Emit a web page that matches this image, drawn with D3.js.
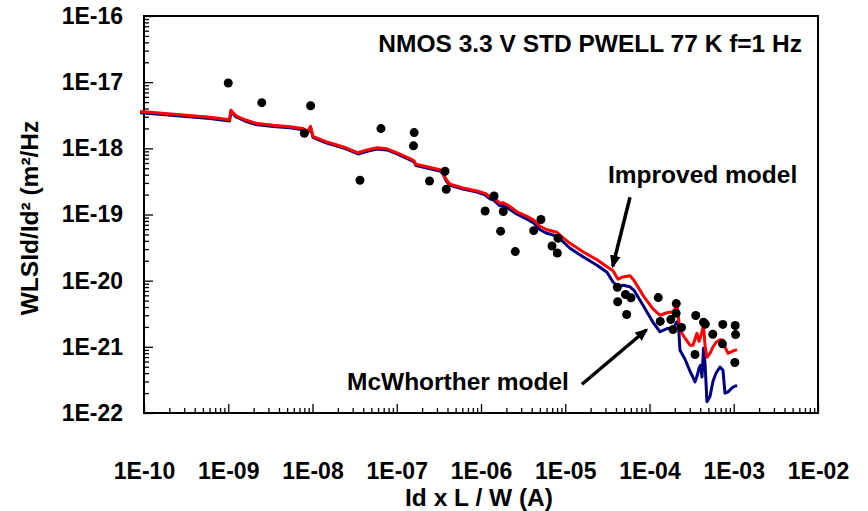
<!DOCTYPE html>
<html>
<head>
<meta charset="utf-8">
<script src="https://cdn.jsdelivr.net/npm/d3@7"></script>
<style>
  html, body { margin: 0; padding: 0; background: #fff; }
  svg { display: block; font-family: Arial, "Liberation Sans", sans-serif; }
</style>
</head>
<body>
<svg id="chart" width="868" height="511"></svg>
<script>
// Normalised current Id·L/W (A) where the two model curves are evaluated
const modelCurrent = [
  9.0e-11, 1.00e-10, 2.67e-10, 6.07e-10, 1.035e-9, 1.078e-9, 1.236e-9, 1.58e-9, 2.135e-9, 3.40e-9,
  5.41e-9, 7.71e-9, 8.84e-9, 9.47e-9, 1.014e-8, 1.446e-8, 2.50e-8, 3.47e-8, 4.32e-8, 5.83e-8,
  7.66e-8, 1.007e-7, 1.437e-7, 1.602e-7, 1.692e-7, 2.286e-7, 3.26e-7, 3.54e-7, 3.84e-7, 4.29e-7,
  6.11e-7, 8.97e-7, 1.116e-6, 1.279e-6, 1.427e-6, 1.681e-6, 1.824e-6, 2.092e-6, 2.675e-6, 3.516e-6,
  4.257e-6, 5.015e-6, 6.07e-6, 7.98e-6, 9.15e-6, 1.139e-5, 1.624e-5, 2.382e-5, 3.13e-5, 3.69e-5,
  4.23e-5, 4.85e-5, 5.87e-5, 6.55e-5, 8.37e-5, 1.100e-4, 1.332e-4, 1.613e-4, 1.901e-4, 2.121e-4,
  2.21e-4, 2.30e-4, 2.64e-4, 3.025e-4, 3.28e-4, 3.47e-4, 3.66e-4, 3.87e-4, 4.03e-4, 4.20e-4,
  4.375e-4, 4.56e-4, 4.81e-4, 5.23e-4, 5.67e-4, 6.16e-4, 6.87e-4, 7.45e-4, 7.87e-4, 8.55e-4,
  9.80e-4, 1.093e-3
];

// Improved model: WL·SId/Id² (m²/Hz)
const improvedModel = [
  3.60e-18, 3.57e-18, 3.21e-18, 2.94e-18, 2.70e-18, 3.76e-18, 3.10e-18, 2.70e-18, 2.39e-18, 2.23e-18,
  2.12e-18, 1.99e-18, 1.81e-18, 2.15e-18, 1.52e-18, 1.26e-18, 1.02e-18, 8.56e-19, 9.34e-19, 1.02e-18,
  9.84e-19, 8.56e-19, 7.00e-19, 6.48e-19, 5.74e-19, 5.26e-19, 4.74e-19, 4.27e-19, 3.41e-19, 2.86e-19,
  2.52e-19, 2.27e-19, 2.09e-19, 1.85e-19, 1.76e-19, 1.48e-19, 1.51e-19, 1.38e-19, 1.10e-19, 9.40e-20,
  8.18e-20, 6.64e-20, 5.88e-20, 5.38e-20, 4.60e-20, 3.67e-20, 2.73e-20, 2.07e-20, 1.62e-20, 1.41e-20,
  1.05e-20, 1.14e-20, 1.19e-20, 1.01e-20, 6.01e-21, 3.76e-21, 3.00e-21, 3.27e-21, 3.39e-21, 4.10e-21,
  2.70e-21, 1.78e-21, 1.35e-21, 1.06e-21, 1.06e-21, 1.30e-21, 1.60e-21, 1.21e-21, 1.39e-21, 1.72e-21,
  2.12e-21, 1.06e-21, 6.95e-22, 7.99e-22, 9.95e-22, 1.17e-21, 1.28e-21, 1.26e-21, 9.95e-22, 7.99e-22,
  8.66e-22, 9.09e-22
];

// McWhorther model: WL·SId/Id² (m²/Hz)
const mcWhortherModel = [
  3.46e-18, 3.43e-18, 3.08e-18, 2.82e-18, 2.59e-18, 3.61e-18, 2.98e-18, 2.59e-18, 2.29e-18, 2.14e-18,
  2.04e-18, 1.91e-18, 1.74e-18, 2.06e-18, 1.46e-18, 1.21e-18, 9.80e-19, 8.22e-19, 8.97e-19, 9.80e-19,
  9.45e-19, 8.22e-19, 6.72e-19, 6.22e-19, 5.51e-19, 5.05e-19, 4.55e-19, 4.10e-19, 3.27e-19, 2.75e-19,
  2.42e-19, 2.18e-19, 1.99e-19, 1.73e-19, 1.64e-19, 1.35e-19, 1.38e-19, 1.24e-19, 1.01e-19, 8.47e-20,
  7.36e-20, 5.88e-20, 5.20e-20, 4.69e-20, 4.01e-20, 3.09e-20, 2.30e-20, 1.71e-20, 1.34e-20, 9.55e-21,
  8.08e-21, 8.52e-21, 8.08e-21, 7.16e-21, 4.25e-21, 2.35e-21, 1.69e-21, 1.89e-21, 1.89e-21, 2.39e-21,
  2.12e-21, 8.87e-22, 6.49e-22, 4.27e-22, 3.47e-22, 2.96e-22, 3.59e-22, 4.74e-22, 5.26e-22, 3.50e-22,
  9.51e-22, 5.64e-22, 1.48e-22, 1.79e-22, 3.02e-22, 3.98e-22, 4.96e-22, 4.42e-22, 1.99e-22, 2.09e-22,
  2.47e-22, 2.62e-22
];

// Measured noise points: current (A) and WL·SId/Id² (m²/Hz)
const measuredCurrent = [
  1.00e-9, 2.5e-9, 9.5e-9, 8.0e-9, 6.5e-8, 1.61e-7, 1.58e-7, 3.66e-8, 2.45e-7, 3.74e-7,
  3.87e-7, 1.12e-6, 1.43e-6, 1.84e-6, 1.71e-6, 2.55e-6, 5.15e-6, 4.22e-6, 8.2e-6, 6.96e-6,
  8.05e-6, 4.15e-5, 4.19e-5, 5.19e-5, 6.03e-5, 5.36e-5, 1.27e-4, 1.34e-4, 1.79e-4, 1.90e-4,
  2.08e-4, 2.07e-4, 2.40e-4, 3.54e-4, 4.38e-4, 4.60e-4, 3.47e-4, 5.64e-4, 7.41e-4, 7.35e-4,
  1.04e-3, 1.05e-3, 1.03e-3
];
const measuredNoise = [
  9.7e-18, 4.9e-18, 4.4e-18, 1.69e-18, 1.99e-18, 1.73e-18, 1.09e-18, 3.29e-19, 3.21e-19, 4.5e-19,
  2.4e-19, 1.13e-19, 1.9e-19, 1.11e-19, 5.6e-20, 2.75e-20, 8.4e-20, 5.7e-20, 4.37e-20, 3.34e-20,
  2.62e-20, 7.94e-21, 4.8e-21, 6.18e-21, 5.51e-21, 3.08e-21, 5.55e-21, 2.42e-21, 2.58e-21, 1.83e-21,
  4.5e-21, 3.21e-21, 1.96e-21, 2.97e-21, 2.35e-21, 2.2e-21, 7.66e-22, 1.55e-21, 2.18e-21, 1.11e-21,
  2.1e-21, 1.53e-21, 5.8e-22
];

// Axis decades and their labels
const xDecades = [1e-10, 1e-9, 1e-8, 1e-7, 1e-6, 1e-5, 1e-4, 1e-3, 1e-2];
const xTickLabels = ["1E-10", "1E-09", "1E-08", "1E-07", "1E-06", "1E-05", "1E-04", "1E-03", "1E-02"];
const yDecades = [1e-22, 1e-21, 1e-20, 1e-19, 1e-18, 1e-17, 1e-16];
const yTickLabels = ["1E-22", "1E-21", "1E-20", "1E-19", "1E-18", "1E-17", "1E-16"];

// Arrow annotations in data space: [fromX, fromY, toX, toY]
const improvedArrow = [5.87e-5, 1.82e-19, 3.66e-5, 1.65e-20];
const mcWhortherArrow = [1.58e-5, 2.72e-22, 9.21e-5, 1.81e-21];

const svg = d3.select("#chart");
const plotLeft = 144, plotRight = 818, plotTop = 16, plotBottom = 413;

const x = d3.scaleLog().domain([1e-10, 1e-2]).range([plotLeft, plotRight]);
const y = d3.scaleLog().domain([1e-22, 1e-16]).range([plotBottom, plotTop]);

svg.append("rect").attr("width", 868).attr("height", 511).attr("fill", "#fff");

// minor tick values (2..9 in every decade)
const minorX = [], minorY = [];
for (let i = 0; i < xDecades.length - 1; i++)
  for (let k = 2; k <= 9; k++) minorX.push(xDecades[i] * k);
for (let i = 0; i < yDecades.length - 1; i++)
  for (let k = 2; k <= 9; k++) minorY.push(yDecades[i] * k);

// bottom axis: inward ticks
const xMinor = svg.append("g").attr("transform", `translate(0,${plotBottom})`)
  .call(d3.axisBottom(x).tickValues(minorX).tickSize(-5).tickFormat(""));
const xMajor = svg.append("g").attr("transform", `translate(0,${plotBottom})`)
  .call(d3.axisBottom(x).tickValues(xDecades).tickSize(-9).tickPadding(50)
    .tickFormat((d, i) => xTickLabels[i]));
// left axis: inward ticks
const yMinor = svg.append("g").attr("transform", `translate(${plotLeft},0)`)
  .call(d3.axisLeft(y).tickValues(minorY).tickSize(-5).tickFormat(""));
const yMajor = svg.append("g").attr("transform", `translate(${plotLeft},0)`)
  .call(d3.axisLeft(y).tickValues(yDecades).tickSize(-9).tickPadding(21)
    .tickFormat((d, i) => yTickLabels[i]));

[xMinor, xMajor, yMinor, yMajor].forEach(g => {
  g.select(".domain").remove();
  g.selectAll(".tick line").attr("stroke", "#000").attr("stroke-width", 1.3);
  g.selectAll("text").attr("fill", "#000").attr("font-size", 23).attr("font-weight", "bold")
    .attr("font-family", "Arial, 'Liberation Sans', sans-serif");
});

// plot frame
svg.append("rect")
  .attr("x", plotLeft).attr("y", plotTop)
  .attr("width", plotRight - plotLeft).attr("height", plotBottom - plotTop)
  .attr("fill", "none").attr("stroke", "#000").attr("stroke-width", 2);

// model curves
const line = d3.line().x(d => x(d[0])).y(d => y(d[1]));
svg.append("path")
  .datum(modelCurrent.map((c, i) => [c, mcWhortherModel[i]]))
  .attr("d", line).attr("fill", "none").attr("stroke", "#000080")
  .attr("stroke-width", 3).attr("stroke-linejoin", "round");
svg.append("path")
  .datum(modelCurrent.map((c, i) => [c, improvedModel[i]]))
  .attr("d", line).attr("fill", "none").attr("stroke", "#ff0000")
  .attr("stroke-width", 3).attr("stroke-linejoin", "round");

// measured points
svg.append("g").selectAll("circle")
  .data(measuredCurrent.map((c, i) => [c, measuredNoise[i]]))
  .join("circle")
  .attr("cx", d => x(d[0])).attr("cy", d => y(d[1])).attr("r", 4.5).attr("fill", "#000");

// arrows
const defs = svg.append("defs");
defs.append("marker").attr("id", "head")
  .attr("viewBox", "0 0 12 10").attr("refX", 10).attr("refY", 5)
  .attr("markerUnits", "userSpaceOnUse").attr("markerWidth", 13).attr("markerHeight", 11)
  .attr("orient", "auto")
  .append("path").attr("d", "M0,0 L12,5 L0,10 Z").attr("fill", "#000");
[improvedArrow, mcWhortherArrow].forEach(a => {
  svg.append("line")
    .attr("x1", x(a[0])).attr("y1", y(a[1]))
    .attr("x2", x(a[2])).attr("y2", y(a[3]))
    .attr("stroke", "#000").attr("stroke-width", 3.5)
    .attr("marker-end", "url(#head)");
});

// text
const bold = sel => sel.attr("font-weight", "bold").attr("fill", "#000");
svg.append("text").attr("x", 802).attr("y", 52).attr("text-anchor", "end")
  .attr("font-size", 24.5).call(bold).text("NMOS 3.3 V STD PWELL 77 K f=1 Hz");
svg.append("text").attr("x", 608).attr("y", 183).attr("font-size", 24.5)
  .call(bold).text("Improved model");
svg.append("text").attr("x", 347).attr("y", 390).attr("font-size", 24.5)
  .call(bold).text("McWhorther model");
svg.append("text").attr("x", 479).attr("y", 506).attr("text-anchor", "middle")
  .attr("font-size", 24.5).call(bold).text("Id x L / W (A)");
svg.append("text").attr("transform", "translate(38,218) rotate(-90)")
  .attr("text-anchor", "middle").attr("font-size", 24.5)
  .call(bold).text("WLSId/Id² (m²/Hz");
</script>
</body>
</html>
